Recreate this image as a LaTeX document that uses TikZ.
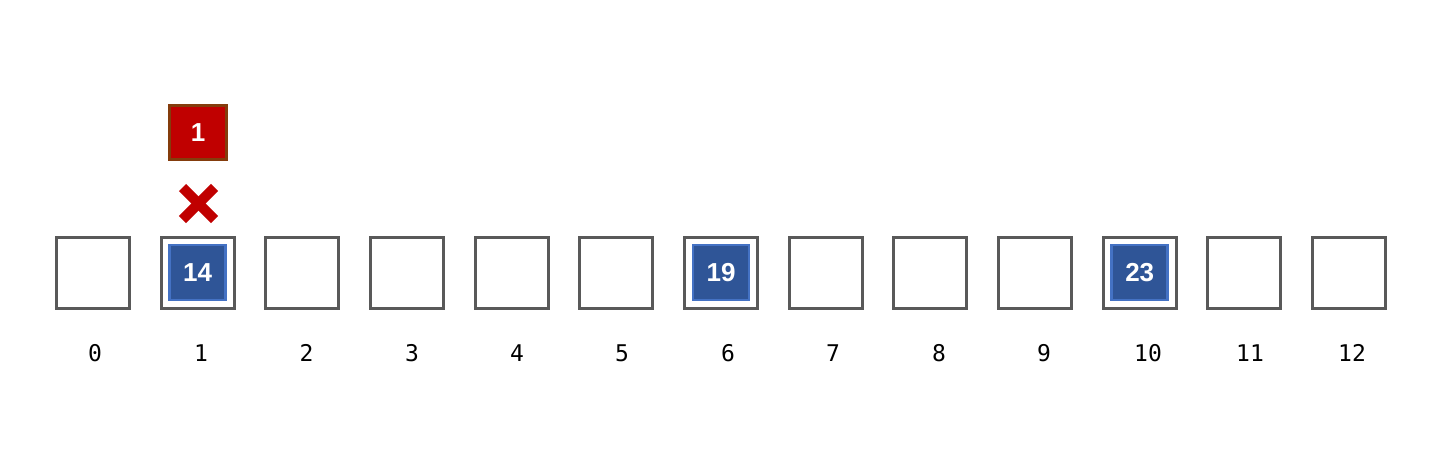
\documentclass[tikz,border=0pt]{standalone}
\usepackage{fontspec}
\setmainfont{Liberation Sans}
\newfontfamily\monofont{DejaVu Sans Mono}
\definecolor{slotgray}{HTML}{595959}
\definecolor{valfill}{HTML}{2F5597}
\definecolor{valedge}{HTML}{4472C4}
\definecolor{newfill}{HTML}{C00000}
\definecolor{newedge}{HTML}{843C0C}
\tikzset{
  slot/.style={draw=slotgray, line width=3pt, fill=white, minimum width=73pt, minimum height=71pt, inner sep=0pt},
  val/.style={draw=valedge, fill=valfill, line width=2.8pt, minimum width=56pt, minimum height=55pt, inner sep=0pt, text=white, font=\fontsize{26}{28}\selectfont\bfseries},
  newval/.style={draw=newedge, fill=newfill, line width=2.8pt, minimum width=57pt, minimum height=54pt, inner sep=0pt, text=white, font=\fontsize{26}{28}\selectfont\bfseries},
  idx/.style={font=\monofont\fontsize{23}{25}\selectfont, text=black},
  cross/.style={draw=newfill, line width=10pt}
}
\begin{document}
\begin{tikzpicture}[x=1pt,y=-1pt]
\useasboundingbox (0,0) rectangle (1449,455);
\foreach \i in {0,...,12} {
  \node[slot] (s\i) at ({93+104.67*\i},272.5) {};
}
\foreach \i/\lx in {0/95,1/201,2/306.5,3/412,4/517,5/622,6/728,7/833,8/939,9/1044,10/1148,11/1250,12/1352} {
  \node[idx] (l\i) at (\lx,353) {\i};
}
\node[val] (v1) at (s1) {14};
\node[val] (v6) at (s6) {19};
\node[val] (v10) at (s10) {23};
\node[newval] (n) at (198,132.5) {1};
\coordinate (x) at (198.5,203.5);
\draw[cross] ([shift={(-16,-16)}]x) -- ([shift={(16,16)}]x);
\draw[cross] ([shift={(-16,16)}]x) -- ([shift={(16,-16)}]x);
\end{tikzpicture}
\end{document}
